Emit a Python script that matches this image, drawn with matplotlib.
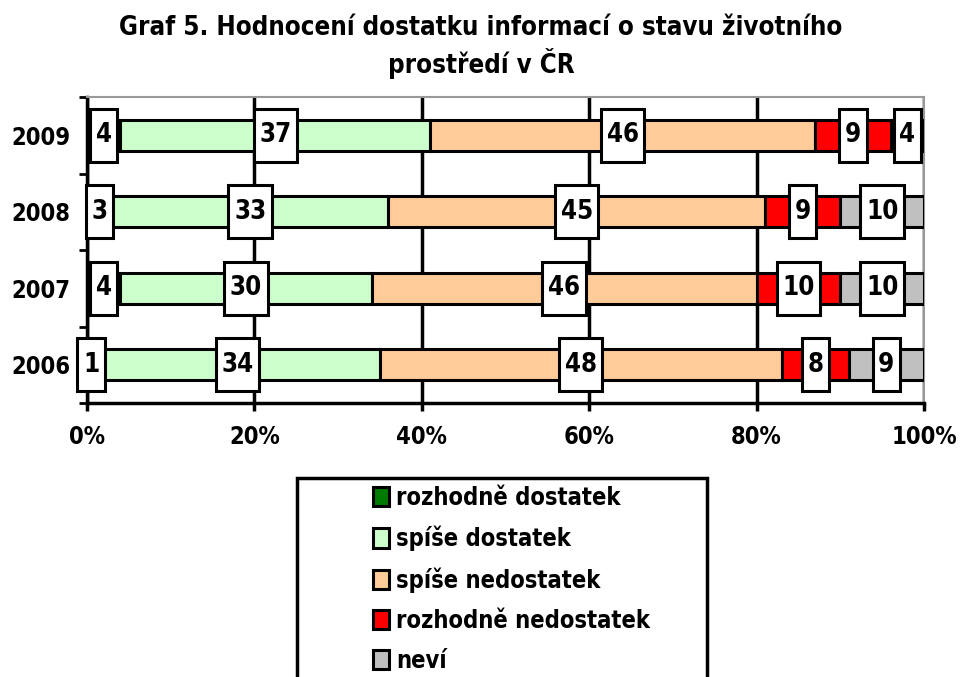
import matplotlib
matplotlib.use("Agg")
import matplotlib.pyplot as plt
from matplotlib.patches import Rectangle
from matplotlib.path import Path

years = ["2009", "2008", "2007", "2006"]
categories = ["rozhodně dostatek", "spíše dostatek", "spíše nedostatek",
              "rozhodně nedostatek", "neví"]
rozhodne_dostatek = [4, 3, 4, 1]
spise_dostatek = [37, 33, 30, 34]
spise_nedostatek = [46, 45, 46, 48]
rozhodne_nedostatek = [9, 9, 10, 8]
nevi = [4, 10, 10, 9]
series = [rozhodne_dostatek, spise_dostatek, spise_nedostatek,
          rozhodne_nedostatek, nevi]
colors = ["#007A00", "#CCFFCC", "#FFCC99", "#FF0000", "#C0C0C0"]
xticks = [0, 20, 40, 60, 80, 100]
xticklabels = ["0%", "20%", "40%", "60%", "80%", "100%"]
title = "Graf 5. Hodnocení dostatku informací o stavu životního\nprostředí v ČR"

W, H = 962, 677
plt.rcParams['font.family'] = ['DejaVu Sans']
plt.rcParams['font.weight'] = 'bold'
plt.rcParams['font.stretch'] = 'condensed'
fig = plt.figure(figsize=(W / 100, H / 100), dpi=100)
FS = 17
FS_BIG = 18.5


def label_box(x0, y0, width, height, mutation_size):
    px = 0.22 * mutation_size
    py = 0.52 * mutation_size
    x0, y0 = x0 - px, y0 - py
    x1, y1 = x0 + width + 2 * px, y0 + height + 2 * py
    return Path([(x0, y0), (x1, y0), (x1, y1), (x0, y1), (x0, y0)],
                closed=True)


ax = fig.add_axes([87 / W, 1 - 403 / H, (924 - 87) / W, (403 - 97) / H])
ypos = list(range(len(years)))[::-1]
left = [0] * len(years)
handles = []
for vals, col, lab in zip(series, colors, categories):
    b = ax.barh(ypos, vals, left=left, height=0.4, color=col,
                edgecolor="black", linewidth=2.2, label=lab, zorder=3)
    handles.append(b)
    for y, v, l in zip(ypos, vals, left):
        ax.text(l + v / 2, y, str(v), ha="center", va="center", fontsize=FS_BIG,
                fontweight="bold", fontstretch="condensed", zorder=5,
                bbox=dict(boxstyle=label_box, fc="white", ec="black", lw=2.2))
    left = [a + b_ for a, b_ in zip(left, vals)]

ax.set_xlim(0, 100)
ax.set_ylim(-0.5, len(years) - 0.5)
ax.set_xticks(xticks)
ax.set_xticklabels(xticklabels, fontsize=FS, fontweight="bold", fontstretch="condensed")
ax.set_yticks(ypos)
ax.set_yticklabels(years, fontsize=FS, fontweight="bold", fontstretch="condensed")
ax.set_yticks([i - 0.5 for i in range(len(years) + 1)], minor=True)
ax.tick_params(axis="y", which="major", length=0, pad=12)
ax.tick_params(axis="y", which="minor", length=6, width=2, direction="out")
ax.tick_params(axis="x", length=6, width=2.5, direction="out", pad=10)
ax.grid(axis="x", color="black", linewidth=2.5, zorder=1)
for s in ["top", "right"]:
    ax.spines[s].set_color("#999999")
    ax.spines[s].set_linewidth(1.5)
ax.spines["bottom"].set_linewidth(2.5)
ax.spines["left"].set_linewidth(2.5)

fig.text(0.5, 1 - 47 / H, title, ha="center", va="center", fontsize=FS_BIG,
         fontweight="bold", fontstretch="condensed", linespacing=1.3)

fig.patches.append(Rectangle((297 / W, -0.05), (707 - 297) / W, 0.05 + 1 - 478 / H,
                             transform=fig.transFigure, fill=False, ec="black", lw=2.5))
fig.legend(handles=handles, labels=categories, loc="upper left",
           bbox_to_anchor=(356 / W, 1 - 469 / H), frameon=False,
           prop=dict(weight="bold", size=FS, stretch="condensed"),
           handlelength=0.7, handleheight=0.9,
           handletextpad=0.3, labelspacing=0.68, borderpad=0.2)

fig.savefig("out.png", dpi=100)
